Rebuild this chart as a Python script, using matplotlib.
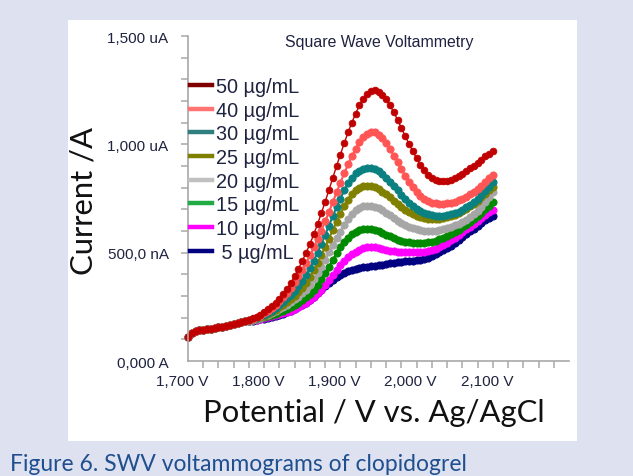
import numpy as np
import matplotlib
matplotlib.use("Agg")
import matplotlib.pyplot as plt
from matplotlib.lines import Line2D
from matplotlib.patches import Rectangle
from matplotlib.transforms import ScaledTranslation

# ---------------- data (current in uA, potential in V) ----------------
potential_V = np.round(np.arange(1700, 2101, 5) / 1000.0, 3)   # 1.700 ... 2.100 V, 5 mV steps

# common start of all scans, 1.700 ... 1.775 V
base_uA = [112, 130, 137, 141, 144, 147, 150, 153, 156, 159, 162, 166, 170, 174, 179, 184]

# 1.780 ... 2.100 V
tail_50 = [190, 197, 205, 214, 225, 238, 252, 268, 287, 308,
           332, 360, 392, 426, 462, 500, 540, 584, 632, 682,
           735, 790, 845, 900, 953, 1005, 1055, 1100, 1142, 1180,
           1210, 1233, 1246, 1249, 1242, 1228, 1207, 1180, 1148, 1113,
           1076, 1039, 1003, 968, 936, 906, 880, 860, 845, 835,
           830, 829, 831, 836, 843, 853, 864, 876, 889, 902,
           916, 930, 944, 957, 970]
tail_40 = [189, 195, 202, 210, 220, 231, 244, 259, 276, 295,
           316, 339, 364, 391, 420, 452, 487, 524, 562, 602,
           644, 688, 733, 778, 823, 866, 907, 945, 980, 1010,
           1034, 1050, 1057, 1055, 1045, 1028, 1005, 978, 948, 917,
           886, 855, 827, 802, 780, 762, 748, 738, 731, 727,
           725, 725, 727, 730, 735, 742, 750, 759, 769, 780,
           795, 810, 826, 843, 860]
tail_30 = [188, 193, 199, 206, 214, 223, 233, 245, 258, 273,
           289, 306, 324, 344, 367, 395, 427, 462, 500, 540,
           582, 625, 668, 710, 750, 787, 820, 846, 866, 879,
           887, 890, 889, 884, 875, 862, 846, 828, 808, 788,
           768, 749, 731, 715, 702, 691, 683, 677, 673, 671,
           670, 671, 673, 677, 683, 690, 699, 709, 720, 732,
           748, 765, 785, 805, 825]
tail_25 = [187, 192, 197, 203, 210, 218, 227, 237, 248, 260,
           273, 287, 302, 318, 337, 360, 387, 418, 452, 488,
           526, 565, 604, 642, 680, 714, 745, 770, 788, 800,
           806, 808, 806, 801, 793, 782, 769, 755, 740, 725,
           711, 698, 687, 677, 669, 663, 659, 656, 655, 655,
           657, 660, 664, 669, 676, 684, 693, 703, 714, 726,
           740, 755, 771, 787, 803]
tail_20 = [186, 190, 195, 200, 206, 213, 221, 230, 239, 249,
           260, 272, 284, 297, 312, 330, 352, 377, 405, 436,
           468, 501, 534, 566, 597, 627, 655, 679, 697, 708,
           714, 716, 715, 711, 704, 695, 684, 672, 660, 648,
           637, 627, 619, 612, 607, 603, 601, 600, 600, 601,
           604, 608, 613, 619, 626, 634, 643, 653, 665, 679,
           694, 712, 733, 755, 778]
tail_15 = [185, 189, 193, 197, 202, 207, 213, 219, 226, 233,
           241, 249, 258, 268, 280, 294, 310, 330, 352, 377,
           405, 436, 467, 497, 524, 548, 568, 584, 596, 604,
           608, 609, 608, 604, 598, 591, 583, 575, 567, 560,
           555, 551, 548, 546, 545, 545, 546, 548, 551, 555,
           561, 568, 576, 585, 595, 606, 617, 629, 642, 655,
           669, 684, 700, 717, 734]
tail_10 = [184, 187, 190, 194, 198, 202, 206, 211, 216, 221,
           227, 233, 240, 248, 257, 268, 281, 296, 312, 330,
           350, 373, 398, 422, 444, 463, 479, 493, 505, 514,
           520, 524, 526, 525, 522, 518, 514, 510, 507, 504,
           502, 501, 501, 501, 502, 503, 505, 508, 513, 519,
           527, 536, 546, 557, 569, 581, 594, 607, 620, 634,
           648, 662, 676, 688, 698]
tail_5 = [183, 186, 189, 192, 195, 199, 203, 208, 213, 219,
          225, 232, 240, 249, 259, 270, 283, 297, 312, 328,
          344, 360, 375, 388, 399, 408, 415, 421, 425, 429,
          432, 435, 437, 440, 442, 445, 448, 451, 454, 457,
          459, 460, 461, 462, 464, 467, 471, 477, 484, 492,
          501, 511, 522, 533, 546, 558, 571, 584, 598, 611,
          625, 638, 650, 660, 669]

labels = ["50 µg/mL", "40 µg/mL", "30 µg/mL", "25 µg/mL",
          "20 µg/mL", "15 µg/mL", "10 µg/mL", " 5 µg/mL"]
tails = [tail_50, tail_40, tail_30, tail_25, tail_20, tail_15, tail_10, tail_5]
curve_colors = ["#c00000", "#ff5555", "#0a8080", "#808000",
                "#a6a6a6", "#008a00", "#ff00ff", "#000080"]
legend_colors = ["#800000", "#ff7373", "#2f7f7f", "#808000",
                 "#c0c0c0", "#22aa44", "#ff00ff", "#000080"]

x_major = [1.70, 1.80, 1.90, 2.00, 2.10]
x_major_labels = ["1,700 V", "1,800 V", "1,900 V", "2,000 V", "2,100 V"]
y_major = [0, 500, 1000, 1500]
y_major_labels = ["0,000 A", "500,0 nA", "1,000 uA", "1,500 uA"]

# ---------------- figure ----------------
W, H = 633, 477
fig = plt.figure(figsize=(W / 100, H / 100), dpi=100, facecolor="#dee2f0")

# white panel behind the chart
fig.patches.append(Rectangle((68 / W, 1 - 442 / H), (577 - 68) / W, (442 - 21) / H,
                             transform=fig.transFigure, facecolor="white",
                             edgecolor="none", zorder=-5))

ax = fig.add_axes([188 / W, 1 - 362 / H, (569 - 188) / W, (362 - 37) / H])
ax.patch.set_alpha(0)

# draw lowest concentration first so 50 ug/mL is on top
for lab, tail, col in reversed(list(zip(labels, tails, curve_colors))):
    y = np.array(base_uA + tail, dtype=float)
    is50 = lab.startswith("50")
    ax.plot(potential_V, y, color=col, lw=1.0 if is50 else 1.5,
            marker="o", ms=4.8 if is50 else 5.2, mec=col, mfc=col, mew=0.6,
            clip_on=False)

ax.set_xlim(1.70, 2.20)
ax.set_ylim(0, 1500)

spine_col = "#a8a8a8"
for s in ["top", "right"]:
    ax.spines[s].set_visible(False)
for s in ["left", "bottom"]:
    ax.spines[s].set_color(spine_col)
    ax.spines[s].set_linewidth(1.2)

lab_col = "#1e2340"
tick_font = dict(family="Liberation Sans", size=11)
ax.set_xticks(x_major)
ax.set_xticklabels(x_major_labels, color=lab_col, **tick_font)
ax.set_xticks(np.round(np.arange(1.72, 2.181, 0.02), 2), minor=True)
ax.set_yticks(y_major)
ax.set_yticklabels(y_major_labels, color=lab_col, **tick_font)
ax.set_yticks(np.arange(100, 1501, 100), minor=True)
ax.xaxis.remove_overlapping_locs = False
ax.yaxis.remove_overlapping_locs = False
ax.tick_params(which="major", length=0)
ax.tick_params(axis="x", which="major", pad=9)
ax.tick_params(axis="y", which="major", pad=14)
ax.tick_params(which="minor", length=5, width=1.1, color=spine_col, direction="out")
for t in ax.get_xticklabels():
    t.set_transform(t.get_transform() + ScaledTranslation(-6 / 100, 0, fig.dpi_scale_trans))

ax.set_xlabel("Potential / V vs. Ag/AgCl", family="Lato", fontsize=22.3, color="#111111")
ax.xaxis.set_label_coords((374 - 188) / 381, (362 - 413) / 325)
ax.xaxis.label.set_va("center")
ax.set_ylabel("Current /A", family="Lato", fontsize=22.3, color="#111111")
ax.yaxis.set_label_coords((84 - 188) / 381, (362 - 201) / 325)
ax.yaxis.label.set_va("center")
ax.yaxis.label.set_ha("center")

fig.text(379 / W, 1 - 43 / H, "Square Wave Voltammetry", ha="center", va="center",
         family="Liberation Sans", fontsize=11.4, color="#1e2340")

handles = [Line2D([], [], color=c, lw=3.2) for c in legend_colors]
fig.legend(handles, labels, loc="upper left", bbox_to_anchor=(190 / W, 1 - 78 / H),
           bbox_transform=fig.transFigure, frameon=False,
           prop=dict(family="Liberation Sans", size=14.3),
           handlelength=1.1, handletextpad=0.22, labelspacing=0.235,
           borderpad=0, borderaxespad=0, labelcolor="#1e2340")

fig.text(10 / W, 1 - 465 / H, "Figure 6. SWV voltammograms of clopidogrel",
         ha="left", va="center", family="Lato", fontsize=16.5, color="#1f4f8f")

fig.savefig("out.png", dpi=100, facecolor=fig.get_facecolor())
